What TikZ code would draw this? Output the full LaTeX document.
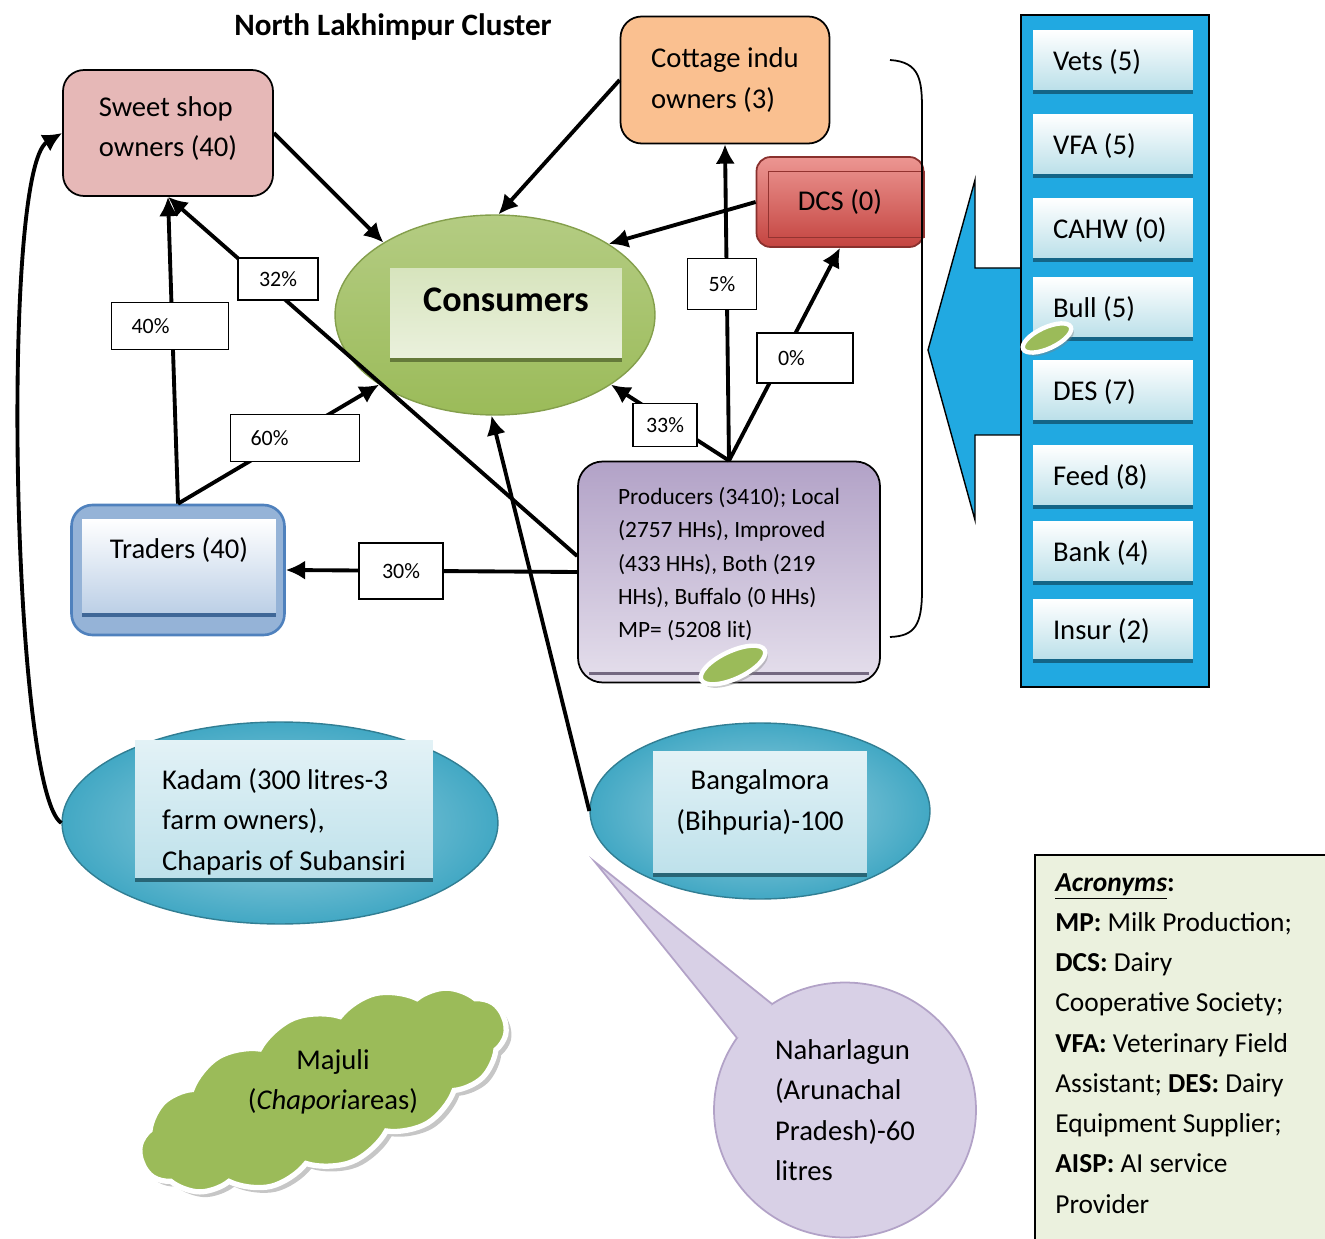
\documentclass[tikz,border=0pt]{standalone}
\usepackage{fontspec}
\setmainfont{Carlito}
\usetikzlibrary{arrows.meta,calc,shapes.geometric,shapes.symbols,shadows}

\definecolor{sweetpink}{RGB}{230,184,183}
\definecolor{cottorange}{RGB}{250,192,144}
\definecolor{dcsred}{RGB}{196,68,64}
\definecolor{dcslight}{RGB}{236,150,146}
\definecolor{consgreen}{RGB}{155,187,89}
\definecolor{conslight}{RGB}{215,228,189}
\definecolor{tradblue}{RGB}{79,129,189}
\definecolor{tradlight}{RGB}{185,205,229}
\definecolor{prodpurple}{RGB}{178,162,199}
\definecolor{prodlight}{RGB}{229,223,236}
\definecolor{panelblue}{RGB}{33,169,225}
\definecolor{itemcyan}{RGB}{183,222,232}
\definecolor{kadteal}{RGB}{66,168,196}
\definecolor{bubblelilac}{RGB}{216,208,230}
\definecolor{acrgreen}{RGB}{235,241,222}

\begin{document}
\begin{tikzpicture}[
    x=0.02cm, y=-0.02cm,
    every node/.style={font=\fontsize{16.3}{23}\selectfont},
    actor/.style={draw=black, line width=1pt, rounded corners=12pt, align=left},
    inbox/.style={inner sep=0pt, path picture={\draw[line width=4pt, #1]
        (path picture bounding box.south west) -- (path picture bounding box.south east);}},
    src/.style={ellipse, draw=#1!75!black, line width=0.8pt, inner color=#1!50!white, outer color=#1},
    item/.style={inbox=panelblue!60!black, top color=white, bottom color=itemcyan,
                 minimum width=3.2cm, minimum height=1.26cm, text width=2.4cm, inner xsep=0.4cm, align=flush left},
    chip/.style={ellipse, fill=consgreen, draw=white, line width=2.5pt, rotate=25,
                 drop shadow={shadow xshift=1.5pt, shadow yshift=-2pt, opacity=0.4}},
    pct/.style={draw=black, fill=white, line width=0.9pt, inner sep=0pt, font=\fontsize{12.5}{15}\selectfont},
    flow/.style={-{Latex[length=11pt,width=11pt]}, line width=2.2pt}
]
\useasboundingbox (0,0) rectangle (1325,1239);

\node[font=\bfseries\fontsize{17.7}{21}\selectfont] (title) at (393,27) {North Lakhimpur Cluster};

\node[actor, fill=sweetpink, minimum width=4.2cm, minimum height=2.52cm] (sweet) at (168,133)
    {Sweet shop\\owners (40)\\[-16pt]};
\node[actor, fill=cottorange, minimum width=4.18cm, minimum height=2.54cm] (cott) at (725,80)
    {Cottage indu\\owners (3)};
\node[actor, draw=dcsred!70!black, top color=dcslight, bottom color=dcsred, rounded corners=8pt,
      minimum width=3.34cm, minimum height=1.8cm] (dcs) at (840,202) {DCS (0)};
\draw[dcsred!75!black, line width=0.7pt] ($(dcs.north west)+(13,15)$) rectangle ($(dcs.south east)+(0,-10)$);

\node[ellipse, draw=consgreen!85!black, line width=0.8pt, top color=consgreen!75!white, bottom color=consgreen,
      minimum width=6.4cm, minimum height=4cm] (cons) at (495,315) {};
\node[inbox=consgreen!65!black, top color=conslight, bottom color=conslight!50!white,
      minimum width=4.64cm, minimum height=1.88cm, text height=0.5cm, text depth=0.64cm,
      font=\bfseries\fontsize{20.5}{24}\selectfont] (constext) at (506,315) {Consumers};

\node[actor, draw=tradblue, line width=1.5pt, fill=tradblue!60!white,
      minimum width=4.26cm, minimum height=2.6cm] (trad) at (178,570) {};
\node[inbox=tradblue!80!black, top color=white, bottom color=tradlight,
      minimum width=3.88cm, minimum height=1.96cm, text height=0.4cm, text depth=0.76cm] (tradtext) at (179,568)
    {Traders (40)};

\node[actor, top color=prodpurple, bottom color=prodlight, rounded corners=14pt,
      minimum width=6.04cm, minimum height=4.42cm, font=\fontsize{13.3}{18.85}\selectfont] (prod) at (729,572)
    {Producers (3410); Local\\(2757 HHs), Improved\\(433 HHs), Both (219\\HHs), Buffalo (0 HHs)\\MP= (5208 lit)\\[-8pt]};
\draw[prodpurple!65!black, line width=2pt] ($(prod.south west)+(12,-10)$) -- ($(prod.south east)+(-12,-10)$);
\node[chip, minimum width=1.4cm, minimum height=0.55cm] (chipa) at (733,665) {};

\draw[line width=1pt] (890,60) .. controls (920,62) and (922,80) .. (922,110) -- (922,590)
    .. controls (922,625) and (915,636) .. (890,637);

\fill[panelblue] (1022,268) -- (975,268) -- (975,180) -- (928,350) -- (975,520) -- (975,435) -- (1022,435);
\draw[line width=0.8pt] (1022,268) -- (975,268) -- (975,180) -- (928,350) -- (975,520) -- (975,435) -- (1022,435);
\draw[fill=panelblue, line width=1.2pt] (1021,15) rectangle (1209,687);
\node[item] (vets) at (1113,62) {Vets (5)};
\node[item] (vfa) at (1113,146) {VFA (5)};
\node[item] (cahw) at (1113,230) {CAHW (0)};
\node[item] (bull) at (1113,309) {Bull (5)};
\node[item] (des) at (1113,392) {DES (7)};
\node[item] (feed) at (1113,477) {Feed (8)};
\node[item] (bank) at (1113,553) {Bank (4)};
\node[item] (insur) at (1113,631) {Insur (2)};
\node[chip, minimum width=1.05cm, minimum height=0.42cm] (chipb) at (1047,338) {};

\node[src=kadteal, minimum width=8.72cm, minimum height=4.04cm] (kad) at (280,823) {};
\node[inbox=kadteal!60!black, top color=kadteal!15!white, bottom color=kadteal!35!white,
      minimum width=5.96cm, minimum height=2.84cm, align=left] (kadtext) at (284,811)
    {\mbox{}\\[1pt]Kadam (300 litres-3\\farm owners),\\Chaparis of Subansiri};
\node[src=kadteal, minimum width=6.8cm, minimum height=3.52cm] (bang) at (760,811) {};
\node[inbox=kadteal!60!black, top color=kadteal!15!white, bottom color=kadteal!35!white,
      minimum width=4.28cm, minimum height=2.5cm, align=center] (bangtext) at (760,814)
    {Bangalmora\\(Bihpuria)-100\\[-7pt]};

\node[ellipse, draw=prodpurple, line width=1pt, fill=bubblelilac, align=left,
      minimum width=5.24cm, minimum height=5.1cm] (nahar) at (845,1110)
    {Naharlagun\\(Arunachal\\Pradesh)-60\\litres};
\coordinate (tailtip) at (595,862);
\coordinate (tailup) at (772,1004);
\coordinate (taillow) at (737,1038);
\fill[bubblelilac] (tailtip) -- (tailup) -- (762,1028) -- (taillow) -- cycle;
\draw[prodpurple, line width=1pt] (tailup) -- (tailtip) -- (taillow);

\node[cloud, cloud puffs=14, cloud puff arc=80, aspect=2.4, rotate=22, fill=consgreen, draw=white, line width=3pt,
      minimum width=7.8cm, minimum height=3.1cm,
      drop shadow={shadow xshift=3pt, shadow yshift=-3pt, opacity=0.45}] (majuli) at (323,1090) {};
\node[align=center] (majtext) at (333,1082) {Majuli\\(\textit{Chapori}areas)};

\draw[fill=acrgreen, line width=1pt] (1035,855) rectangle (1345,1260);
\node[anchor=north west, align=left, inner sep=0pt, font=\fontsize{15.6}{22.9}\selectfont] (acr) at (1055,873)
    {\underline{\textbf{\textit{Acronyms}}}\textbf{:}\\
     \textbf{MP:} Milk Production;\\
     \textbf{DCS:} Dairy\\
     Cooperative Society;\\
     \textbf{VFA:} Veterinary Field\\
     Assistant; \textbf{DES:} Dairy\\
     Equipment Supplier;\\
     \textbf{AISP:} AI service\\
     Provider};

\draw[flow] (sweet.east) -- (cons.147);
\draw[flow] (cott.west) -- (cons.88);
\draw[flow] (dcs.west) -- (cons.32);
\draw[flow] (prod.north) -- (cott.south);
\draw[flow] (prod.north) -- (dcs.south);
\draw[flow] (prod.north) -- (cons.-31);
\draw[flow] (prod.174) -- (sweet.south);
\draw[flow] (prod.west) -- (trad.east);
\draw[flow] (trad.north) -- (sweet.south);
\draw[flow] (trad.north) -- (cons.211);
\draw[flow] (bang.west) -- (cons.268);
\draw[flow] (kad.west) .. controls (12,790) and (0,170) .. (sweet.west);

\node[pct, minimum width=1.6cm, minimum height=0.84cm] (p32) at (278,279) {32\%};
\node[pct, minimum width=2.34cm, minimum height=0.94cm, text width=1.54cm, inner xsep=0.4cm, align=left] (p40) at (170,326) {40\%};
\node[pct, minimum width=2.58cm, minimum height=0.94cm, text width=1.78cm, inner xsep=0.4cm, align=left] (p60) at (295,438) {60\%};
\node[pct, minimum width=1.38cm, minimum height=1.02cm] (p5) at (722,284) {5\%};
\node[pct, minimum width=1.92cm, minimum height=1cm, text width=1.08cm, inner xsep=0.42cm, align=left] (p0) at (805,358) {0\%};
\node[pct, minimum width=1.28cm, minimum height=0.86cm] (p33) at (665,425) {33\%};
\node[pct, minimum width=1.68cm, minimum height=1.12cm] (p30) at (401,571) {30\%};
\end{tikzpicture}
\end{document}
